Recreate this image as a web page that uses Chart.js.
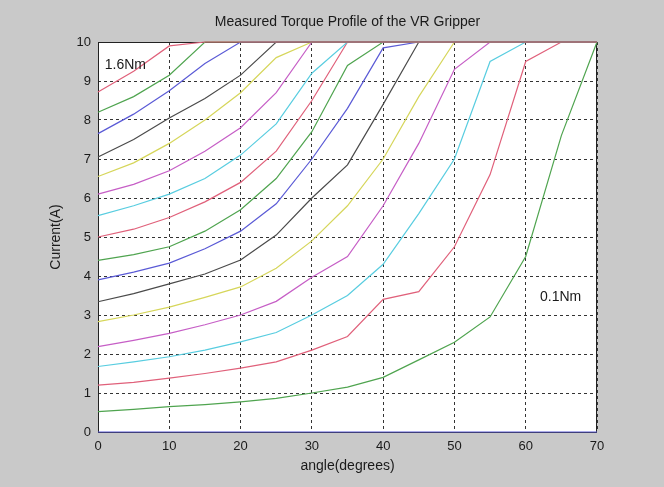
<!DOCTYPE html>
<html>
<head>
<meta charset="utf-8">
<title>Measured Torque Profile of the VR Gripper</title>
<script src="https://cdn.jsdelivr.net/npm/chart.js@4.4.1/dist/chart.umd.min.js"></script>
<style>
  html, body { margin: 0; padding: 0; background: #c9c9c9; }
  #wrap { width: 664px; height: 487px; }
</style>
</head>
<body>
<div id="wrap"><canvas id="torque"></canvas></div>
<script>
// Gripper current vs. jaw angle, one curve per torque setting (0 .. 1.6 Nm)

const angles = [0, 5, 10, 15, 20, 25, 30, 35, 40, 45, 50, 55, 60, 65, 70];

const torque00 = [0, 0, 0, 0, 0, 0, 0, 0, 0, 0, 0, 0, 0, 0, 0];
const torque01 = [0.52, 0.58, 0.65, 0.7, 0.77, 0.86, 1.0, 1.15, 1.4, 1.85, 2.3, 2.95, 4.5, 7.6, 10];
const torque02 = [1.2, 1.27, 1.38, 1.5, 1.64, 1.8, 2.1, 2.45, 3.4, 3.6, 4.75, 6.6, 9.5, 10, 10];
const torque03 = [1.68, 1.8, 1.93, 2.1, 2.31, 2.55, 3.0, 3.5, 4.3, 5.6, 7.0, 9.5, 10, 10, 10];
const torque04 = [2.19, 2.35, 2.53, 2.75, 3.0, 3.35, 3.97, 4.5, 5.8, 7.4, 9.3, 10, 10, 10, 10];
const torque05 = [2.83, 3.0, 3.2, 3.45, 3.72, 4.2, 4.9, 5.8, 7.0, 8.6, 10, 10, 10, 10, 10];
const torque06 = [3.34, 3.55, 3.8, 4.05, 4.41, 5.05, 6.0, 6.85, 8.4, 10, 10, 10, 10, 10, 10];
const torque07 = [3.9, 4.1, 4.33, 4.7, 5.15, 5.85, 7.0, 8.3, 9.85, 10, 10, 10, 10, 10, 10];
const torque08 = [4.4, 4.55, 4.75, 5.15, 5.7, 6.5, 7.7, 9.4, 10, 10, 10, 10, 10, 10, 10];
const torque09 = [5.0, 5.2, 5.5, 5.9, 6.4, 7.2, 8.5, 10, 10, 10, 10, 10, 10, 10, 10];
const torque10 = [5.55, 5.8, 6.1, 6.5, 7.1, 7.9, 9.2, 10, 10, 10, 10, 10, 10, 10, 10];
const torque11 = [6.1, 6.35, 6.7, 7.2, 7.8, 8.7, 10, 10, 10, 10, 10, 10, 10, 10, 10];
const torque12 = [6.55, 6.9, 7.4, 8.0, 8.7, 9.6, 10, 10, 10, 10, 10, 10, 10, 10, 10];
const torque13 = [7.05, 7.5, 8.05, 8.55, 9.15, 10, 10, 10, 10, 10, 10, 10, 10, 10, 10];
const torque14 = [7.65, 8.15, 8.75, 9.45, 10, 10, 10, 10, 10, 10, 10, 10, 10, 10, 10];
const torque15 = [8.2, 8.6, 9.15, 10, 10, 10, 10, 10, 10, 10, 10, 10, 10, 10, 10];
const torque16 = [8.72, 9.25, 9.9, 10, 10, 10, 10, 10, 10, 10, 10, 10, 10, 10, 10];

const series = [torque00, torque01, torque02, torque03, torque04, torque05, torque06, torque07, torque08,
  torque09, torque10, torque11, torque12, torque13, torque14, torque15, torque16];

// classic b g r c m y k line order
const lineColors = ['#5a5ad6', '#4fa44f', '#e0607a', '#58cde0', '#c65ec6', '#d6d65a', '#4a4a4a'];

const xTicks = [0, 10, 20, 30, 40, 50, 60, 70];
const yTicks = [0, 1, 2, 3, 4, 5, 6, 7, 8, 9, 10];

const chartTitle = 'Measured Torque Profile of the VR Gripper';

// Curve labels: text, angle, current
const curveLabels = [
  { text: '1.6Nm', x: 0.95, y: 9.4 },
  { text: '0.1Nm', x: 62.0, y: 3.45 },
];

const FONT = '"Liberation Sans", Arial, sans-serif';
const TEXT = '#1a1a1a';

const datasets = series.map((values, i) => ({
  label: (i / 10).toFixed(1) + 'Nm',
  data: values.map((v, j) => ({ x: angles[j], y: v })),
  borderColor: lineColors[i % lineColors.length],
  borderWidth: 1.2,
  pointRadius: 0,
  tension: 0,
  fill: false,
  clip: 2,
  order: series.length - i,
}));

// grey figure background, white axes, box, title over the axes, curve labels
const figure = {
  id: 'figure',
  beforeDraw(chart) {
    const { ctx, chartArea: a } = chart;
    ctx.save();
    ctx.fillStyle = '#c9c9c9';
    ctx.fillRect(0, 0, chart.width, chart.height);
    ctx.fillStyle = '#ffffff';
    ctx.fillRect(a.left, a.top, a.right - a.left, a.bottom - a.top);
    ctx.restore();
  },
  beforeDatasetsDraw(chart) {
    const { ctx, chartArea: a } = chart;
    ctx.save();
    ctx.strokeStyle = '#222';
    ctx.lineWidth = 1;
    ctx.strokeRect(a.left + 0.5, a.top + 0.5, a.right - a.left - 1, a.bottom - a.top);
    ctx.restore();
  },
  afterDatasetsDraw(chart) {
    const { ctx, scales, chartArea: a } = chart;
    ctx.save();
    ctx.fillStyle = TEXT;
    ctx.font = '14px ' + FONT;
    ctx.textBaseline = 'middle';
    ctx.textAlign = 'center';
    ctx.fillText(chartTitle, (a.left + a.right) / 2, 22);
    ctx.textAlign = 'left';
    curveLabels.forEach(l => {
      ctx.fillText(l.text, scales.x.getPixelForValue(l.x), scales.y.getPixelForValue(l.y));
    });
    ctx.restore();
  },
};

new Chart(document.getElementById('torque'), {
  type: 'line',
  data: { datasets },
  plugins: [figure],
  options: {
    responsive: true,
    maintainAspectRatio: false,
    animation: false,
    events: [],
    layout: { padding: { left: 0, right: 67, top: 42, bottom: 0 } },
    plugins: {
      legend: { display: false },
      tooltip: { enabled: false },
      title: { display: false },
    },
    scales: {
      x: {
        type: 'linear',
        min: 0,
        max: 70,
        afterBuildTicks: s => { s.ticks = xTicks.map(v => ({ value: v })); },
        afterFit: s => { s.height = 55; },
        grid: { color: '#333', lineWidth: 1, drawTicks: false },
        border: { display: false, dash: [3, 3] },
        ticks: { color: TEXT, padding: 7, font: { family: FONT, size: 13 } },
        title: {
          display: true,
          text: 'angle(degrees)',
          color: TEXT,
          font: { family: FONT, size: 14 },
          padding: { top: 0, bottom: 12 },
        },
      },
      y: {
        type: 'linear',
        min: 0,
        max: 10,
        afterBuildTicks: s => { s.ticks = yTicks.map(v => ({ value: v })); },
        afterFit: s => { s.width = 98; },
        grid: { color: '#333', lineWidth: 1, drawTicks: false },
        border: { display: false, dash: [3, 3] },
        ticks: { color: TEXT, padding: 7, font: { family: FONT, size: 13 } },
        title: {
          display: true,
          text: 'Current(A)',
          color: TEXT,
          font: { family: FONT, size: 14 },
          padding: { top: 48, bottom: 0 },
        },
      },
    },
  },
});
</script>
</body>
</html>
